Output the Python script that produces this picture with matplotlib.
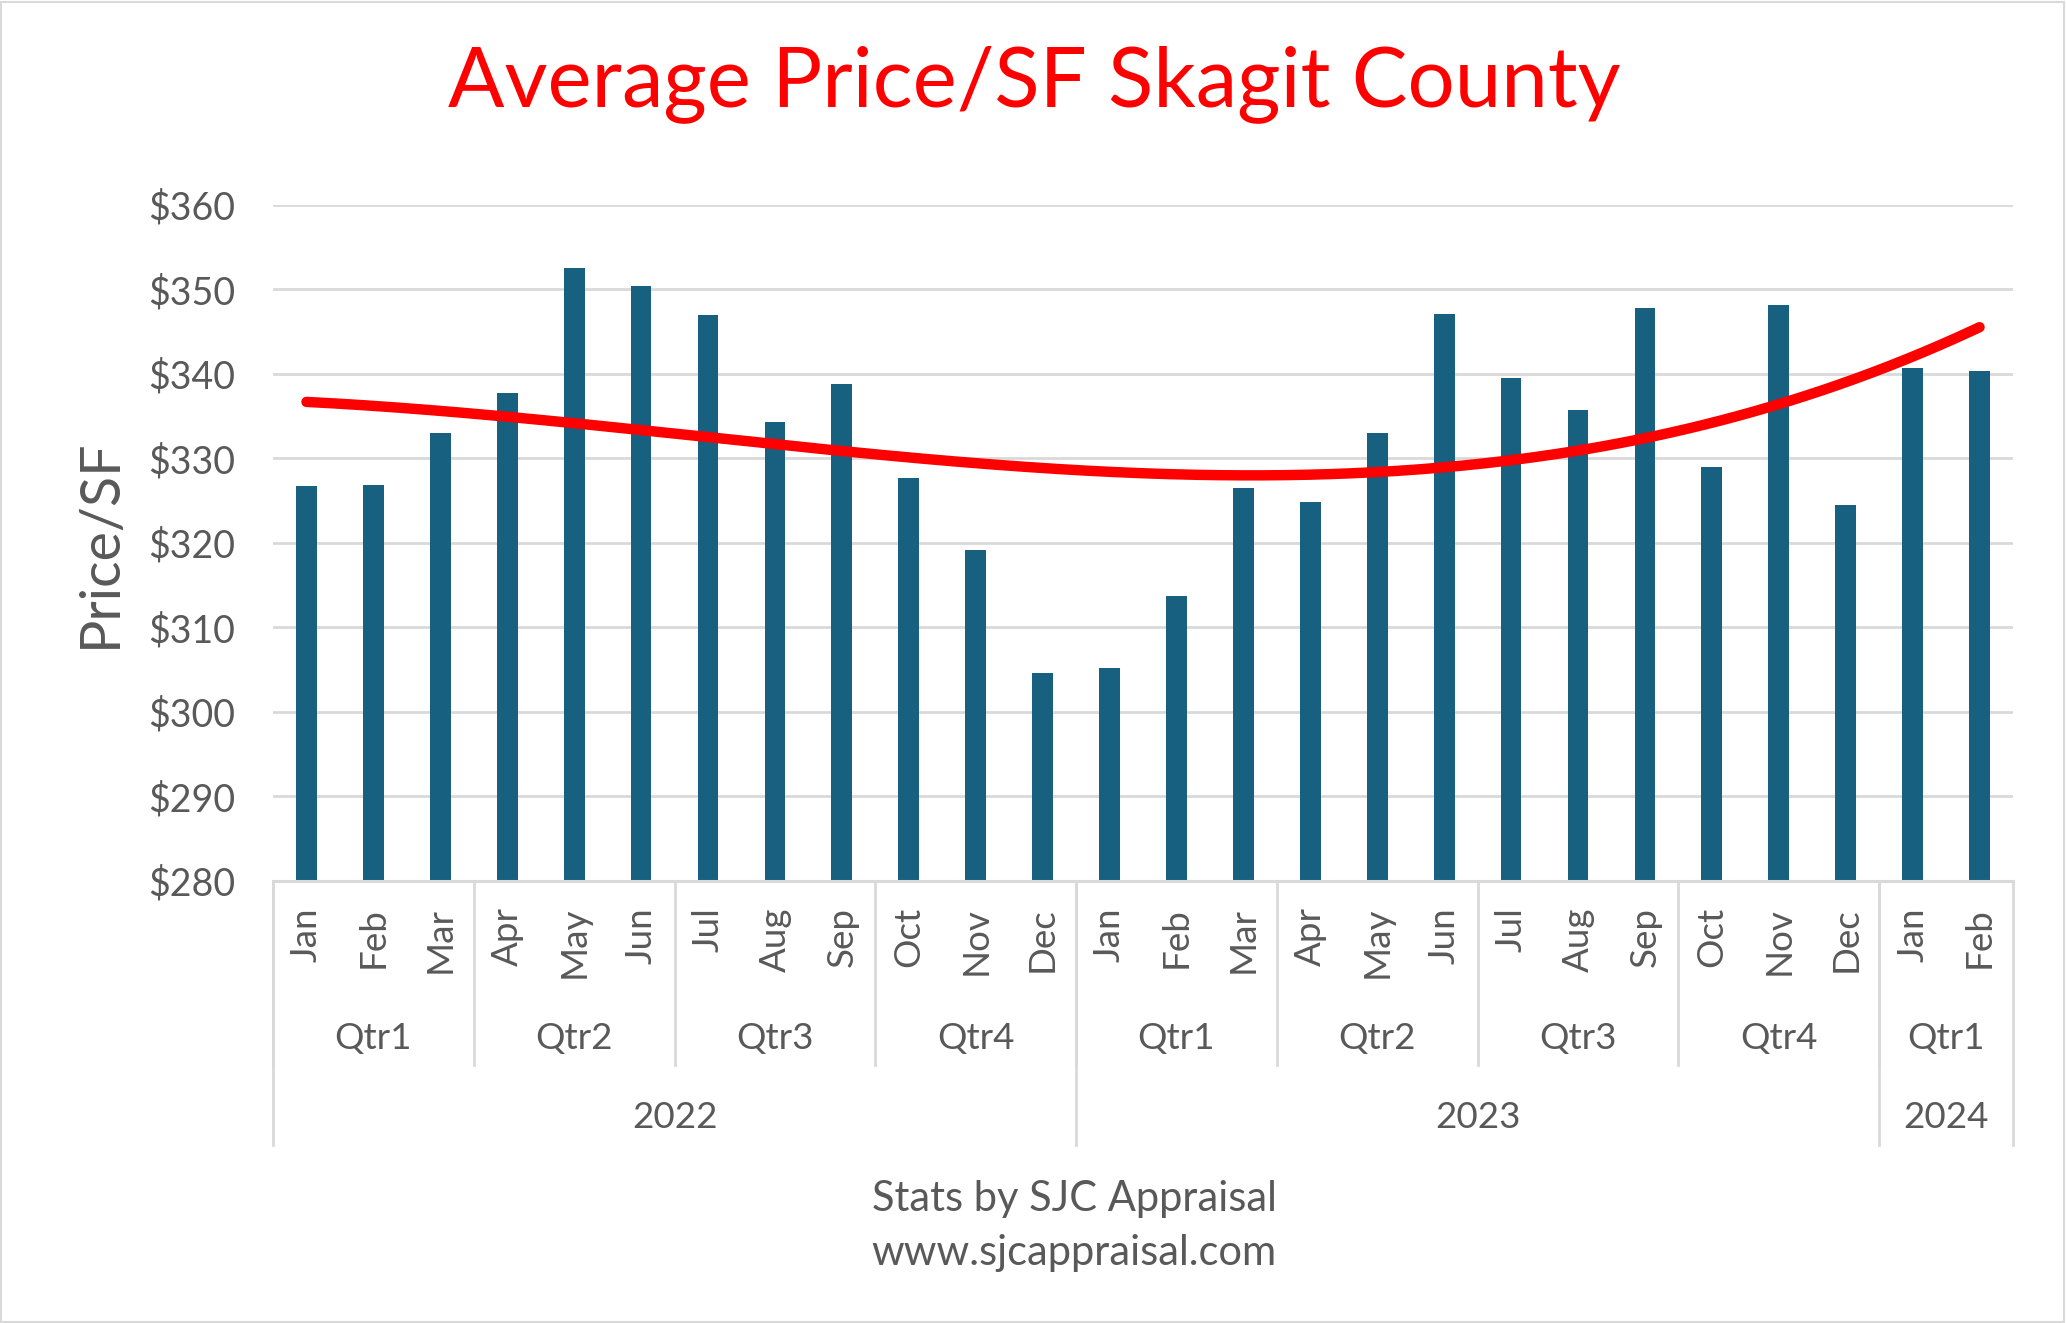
import numpy as np
import matplotlib
matplotlib.use("Agg")
import matplotlib.pyplot as plt
from matplotlib.ticker import FuncFormatter
import matplotlib.transforms as mtransforms

plt.rcParams['font.family'] = ['Lato', 'DejaVu Sans']

months = ["Jan", "Feb", "Mar", "Apr", "May", "Jun", "Jul", "Aug", "Sep", "Oct", "Nov", "Dec",
          "Jan", "Feb", "Mar", "Apr", "May", "Jun", "Jul", "Aug", "Sep", "Oct", "Nov", "Dec",
          "Jan", "Feb"]
quarters = ["Qtr1", "Qtr2", "Qtr3", "Qtr4", "Qtr1", "Qtr2", "Qtr3", "Qtr4", "Qtr1"]
quarter_sizes = [3, 3, 3, 3, 3, 3, 3, 3, 2]
years = ["2022", "2023", "2024"]
year_sizes = [12, 12, 2]
price_sf = [326.7, 326.9, 333.0, 337.8, 352.6, 350.4, 347.0, 334.3, 338.8, 327.7, 319.2, 304.6,
            305.2, 313.7, 326.5, 324.8, 333.0, 347.1, 339.5, 335.7, 347.8, 329.0, 348.2, 324.5,
            340.7, 340.3]

GREY = '#595959'
GRID = '#D9D9D9'
BAR = '#17607F'

W, H = 2066, 1323
fig = plt.figure(figsize=(W / 100, H / 100), dpi=100)
fig.patch.set_facecolor('white')

ax_l, ax_r, ax_t, ax_b = 273, 2013, 205, 881
ax = fig.add_axes([ax_l / W, 1 - ax_b / H, (ax_r - ax_l) / W, (ax_b - ax_t) / H])
axh = ax_b - ax_t

x = np.arange(len(price_sf))
ax.bar(x, price_sf, width=0.31, color=BAR, zorder=2)

# polynomial (order 3) trendline
coef = np.polyfit(x, price_sf, 3)
xs = np.linspace(x[0], x[-1], 300)
ax.plot(xs, np.polyval(coef, xs), color='#FF0000', lw=7.5, solid_capstyle='round', zorder=3)

ax.set_xlim(-0.5, len(price_sf) - 0.5)
ax.set_ylim(280, 360)
ax.set_yticks(np.arange(280, 361, 10))
ax.yaxis.set_major_formatter(FuncFormatter(lambda v, p: f"${v:.0f}"))
ax.grid(axis='y', color=GRID, lw=2, zorder=0)
ax.set_axisbelow(True)
for s in ['top', 'right', 'left']:
    ax.spines[s].set_visible(False)
ax.spines['bottom'].set_color(GRID)
ax.spines['bottom'].set_linewidth(2.2)
ax.tick_params(axis='y', length=0, pad=27, labelsize=27, labelcolor=GREY)
ax.tick_params(axis='x', length=0, labelbottom=False)

ax.set_ylabel("Price/SF", fontsize=40, color=GREY, labelpad=16)

trans = mtransforms.blended_transform_factory(ax.transData, ax.transAxes)

def ay(px):
    return -(px - ax_b) / axh

# month labels
for i, m in enumerate(months):
    ax.text(i, ay(907), m, rotation=90, ha='center', va='top', fontsize=26.5,
            color=GREY, transform=trans)

# quarter labels and separators
pos = -0.5
for q, n in zip(quarters, quarter_sizes):
    ax.text(pos + n / 2, ay(1039), q, ha='center', va='center', fontsize=26.5,
            color=GREY, transform=trans)
    ax.plot([pos, pos], [0, ay(1065)], color=GRID, lw=2, transform=trans, clip_on=False)
    pos += n

# year labels and separators
pos = -0.5
for yv, n in zip(years, year_sizes):
    ax.text(pos + n / 2, ay(1118), yv, ha='center', va='center', fontsize=26.5,
            color=GREY, transform=trans)
    ax.plot([pos, pos], [0, ay(1145)], color=GRID, lw=2, transform=trans, clip_on=False)
    pos += n
ax.plot([pos, pos], [0, ay(1145)], color=GRID, lw=2, transform=trans, clip_on=False)

fig.text(1034 / W, 1 - 84 / H, "Average Price/SF Skagit County", ha='center', va='center',
         fontsize=60, color='#FF0000')
fig.text(1074 / W, 1 - 1199 / H, "Stats by SJC Appraisal", ha='center', va='center',
         fontsize=30, color=GREY)
fig.text(1074 / W, 1 - 1253 / H, "www.sjcappraisal.com", ha='center', va='center',
         fontsize=30, color=GREY)

# chart border
fig.add_artist(plt.Rectangle((1 / W, 1 / H), 1 - 3 / W, 1 - 3 / H, transform=fig.transFigure,
                             fill=False, edgecolor=GRID, lw=1.5))

fig.savefig("out.png", dpi=100)
